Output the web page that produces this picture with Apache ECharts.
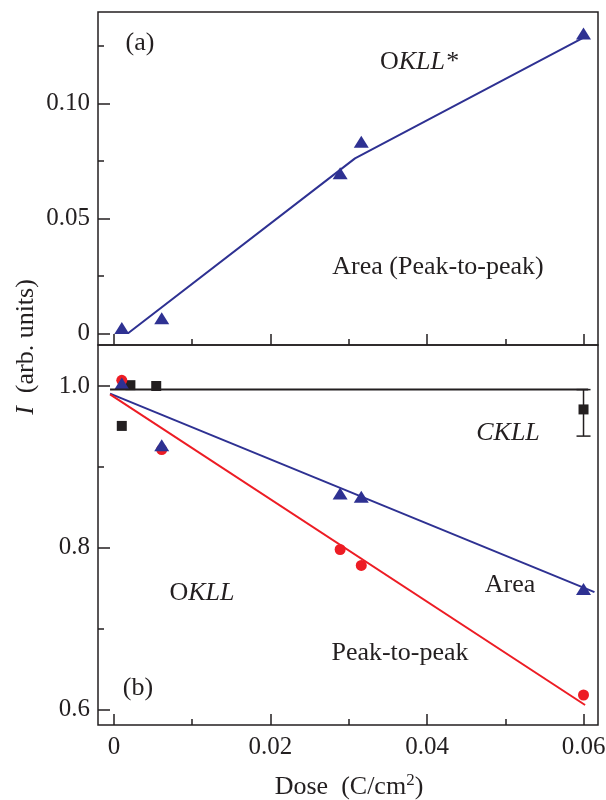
<!DOCTYPE html>
<html>
<head>
<meta charset="utf-8">
<script src="https://cdn.jsdelivr.net/npm/echarts@6/dist/echarts.min.js"></script>
<style>
  html, body { margin: 0; padding: 0; background: #fff; }
  #main { width: 606px; height: 800px; }
</style>
</head>
<body>
<div id="main"></div>
<script>
// panel (a): OKLL* growth
var doseA = [0.001, 0.0061, 0.0289, 0.0316, 0.06];
var areaA = [0.0023, 0.0065, 0.0696, 0.0833, 0.1304];
var fitDoseA = [0.0018, 0.0308, 0.06];
var fitValA = [0, 0.0761, 0.1287];

// panel (b): OKLL decay and CKLL
var doseB = [0.001, 0.0061, 0.0289, 0.0316, 0.06];
var areaB = [1.003, 0.9266, 0.867, 0.863, 0.749];
var ppB = [1.007, 0.9214, 0.7977, 0.778, 0.6177];
var cDose = [0.001, 0.0021, 0.0054, 0.06];
var cVal = [0.9506, 1.001, 1.0, 0.971];
var errDose = [0.06];
var errLo = [0.938];
var errHi = [0.9955];
var cFitDose = [-0.0005, 0.0606];
var cFitVal = [0.9955, 0.9955];
var areaFitDose = [-0.0005, 0.0614];
var areaFitVal = [0.9906, 0.745];
var ppFitDose = [-0.0005, 0.0602];
var ppFitVal = [0.9897, 0.6053];

// ticks
var xMajor = [0, 0.02, 0.04, 0.06];
var xMinor = [0.01, 0.03, 0.05];
var yMajorA = [0, 0.05, 0.1];
var yMinorA = [0.025, 0.075, 0.125];
var yMajorB = [0.6, 0.8, 1.0];
var yMinorB = [0.7, 0.9];

var BLUE = '#2E3192', RED = '#ED1C24', INK = '#231F20';
var FONT = '"Liberation Serif", "Times New Roman", serif';

var zip = (xs, ys) => xs.map((x, i) => [x, ys[i]]);

var xRange = { min: -0.00204, max: 0.06185 };

let makeX = (grid, ticks, len, labels) => ({
  type: 'value', gridIndex: grid, position: 'bottom', min: xRange.min, max: xRange.max,
  axisLine: { show: false, onZero: false },
  splitLine: { show: false },
  axisTick: { show: true, inside: true, length: len, customValues: ticks,
              lineStyle: { color: INK, width: 1.5 } },
  axisLabel: { show: labels, customValues: ticks, margin: 10,
               color: INK, fontFamily: FONT, fontSize: 25,
               formatter: v => v === 0 ? '0' : v.toFixed(2) }
});

let makeY = (grid, min, max, ticks, len, labels, digits) => ({
  type: 'value', gridIndex: grid, position: 'left', min: min, max: max,
  axisLine: { show: false, onZero: false },
  splitLine: { show: false },
  axisTick: { show: true, inside: true, length: len, customValues: ticks,
              lineStyle: { color: INK, width: 1.5 } },
  axisLabel: { show: labels, customValues: ticks, margin: 8,
               color: INK, fontFamily: FONT, fontSize: 25,
               formatter: v => v === 0 ? '0' : v.toFixed(digits) }
});

let txt = (x, y, text, rich, rot) => ({
  type: 'text', x: x, y: y, rotation: rot || 0,
  style: { text: text, rich: rich, align: 'center', verticalAlign: 'middle',
           fontFamily: FONT, fontSize: 26, fill: INK }
});

var R = {
  n: { fontFamily: FONT, fontSize: 26, fill: INK, color: INK, lineHeight: 30 },
  i: { fontFamily: FONT, fontSize: 26, fontStyle: 'italic', fill: INK, color: INK, lineHeight: 30 },
  s: { fontFamily: FONT, fontSize: 17, fill: INK, color: INK, verticalAlign: 'top', lineHeight: 17 }
};

var option = {
  animation: false,
  backgroundColor: '#fff',
  grid: [
    { left: 98, top: 12, width: 500, height: 333, show: true, borderColor: INK, borderWidth: 1.5, outerBoundsMode: 'none' },
    { left: 98, top: 345, width: 500, height: 380, show: true, borderColor: INK, borderWidth: 1.5, outerBoundsMode: 'none' }
  ],
  xAxis: [
    makeX(0, xMajor, 11, false),
    makeX(0, xMinor, 6, false),
    makeX(1, xMajor, 11, true),
    makeX(1, xMinor, 6, false)
  ],
  yAxis: [
    makeY(0, -0.0051, 0.1398, yMajorA, 12, true, 2),
    makeY(0, -0.0051, 0.1398, yMinorA, 6, false, 2),
    makeY(1, 0.5806, 1.0507, yMajorB, 12, true, 1),
    makeY(1, 0.5806, 1.0507, yMinorB, 6, false, 1)
  ],
  series: [
    { type: 'line', xAxisIndex: 0, yAxisIndex: 0, data: zip(fitDoseA, fitValA),
      symbol: 'none', lineStyle: { color: BLUE, width: 2 } },
    { type: 'scatter', xAxisIndex: 0, yAxisIndex: 0, data: zip(doseA, areaA),
      symbol: 'triangle', symbolSize: [15, 12], itemStyle: { color: BLUE, opacity: 1 } },

    { type: 'line', xAxisIndex: 2, yAxisIndex: 2, data: zip(cFitDose, cFitVal),
      symbol: 'none', lineStyle: { color: INK, width: 2 } },
    { type: 'line', xAxisIndex: 2, yAxisIndex: 2, data: zip(areaFitDose, areaFitVal),
      symbol: 'none', lineStyle: { color: BLUE, width: 2 } },
    { type: 'line', xAxisIndex: 2, yAxisIndex: 2, data: zip(ppFitDose, ppFitVal),
      symbol: 'none', lineStyle: { color: RED, width: 2 } },
    { type: 'custom', xAxisIndex: 2, yAxisIndex: 2,
      data: errDose.map((d, i) => [d, errLo[i], errHi[i]]),
      renderItem: (params, api) => {
        var lo = api.coord([api.value(0), api.value(1)]);
        var hi = api.coord([api.value(0), api.value(2)]);
        var st = { stroke: INK, lineWidth: 1.5 };
        return { type: 'group', children: [
          { type: 'line', shape: { x1: lo[0], y1: lo[1], x2: hi[0], y2: hi[1] }, style: st },
          { type: 'line', shape: { x1: lo[0] - 7, y1: lo[1], x2: lo[0] + 7, y2: lo[1] }, style: st },
          { type: 'line', shape: { x1: hi[0] - 7, y1: hi[1], x2: hi[0] + 7, y2: hi[1] }, style: st }
        ]};
      } },
    { type: 'scatter', xAxisIndex: 2, yAxisIndex: 2, data: zip(cDose, cVal),
      symbol: 'rect', symbolSize: 10, itemStyle: { color: INK, opacity: 1 } },
    { type: 'scatter', xAxisIndex: 2, yAxisIndex: 2, data: zip(doseB, ppB),
      symbol: 'circle', symbolSize: 11, itemStyle: { color: RED, opacity: 1 } },
    { type: 'scatter', xAxisIndex: 2, yAxisIndex: 2, data: zip(doseB, areaB),
      symbol: 'triangle', symbolSize: [15, 12], itemStyle: { color: BLUE, opacity: 1 } }
  ],
  graphic: [
    txt(140, 43, '{n|(a)}', R),
    txt(419, 62, '{n|O}{i|KLL*}', R),
    txt(438, 267, '{n|Area (Peak-to-peak)}', R),
    txt(508, 433, '{i|CKLL}', R),
    txt(510, 585, '{n|Area}', R),
    txt(400, 653, '{n|Peak-to-peak}', R),
    txt(202, 593, '{n|O}{i|KLL}', R),
    txt(138, 688, '{n|(b)}', R),
    txt(26, 347, '{i|I}{n|  (arb. units)}', R, Math.PI / 2),
    txt(349, 787, '{n|Dose  (C/cm}{s|2}{n|)}', R)
  ]
};

var chart = echarts.init(document.getElementById('main'));
chart.setOption(option);
</script>
</body>
</html>
